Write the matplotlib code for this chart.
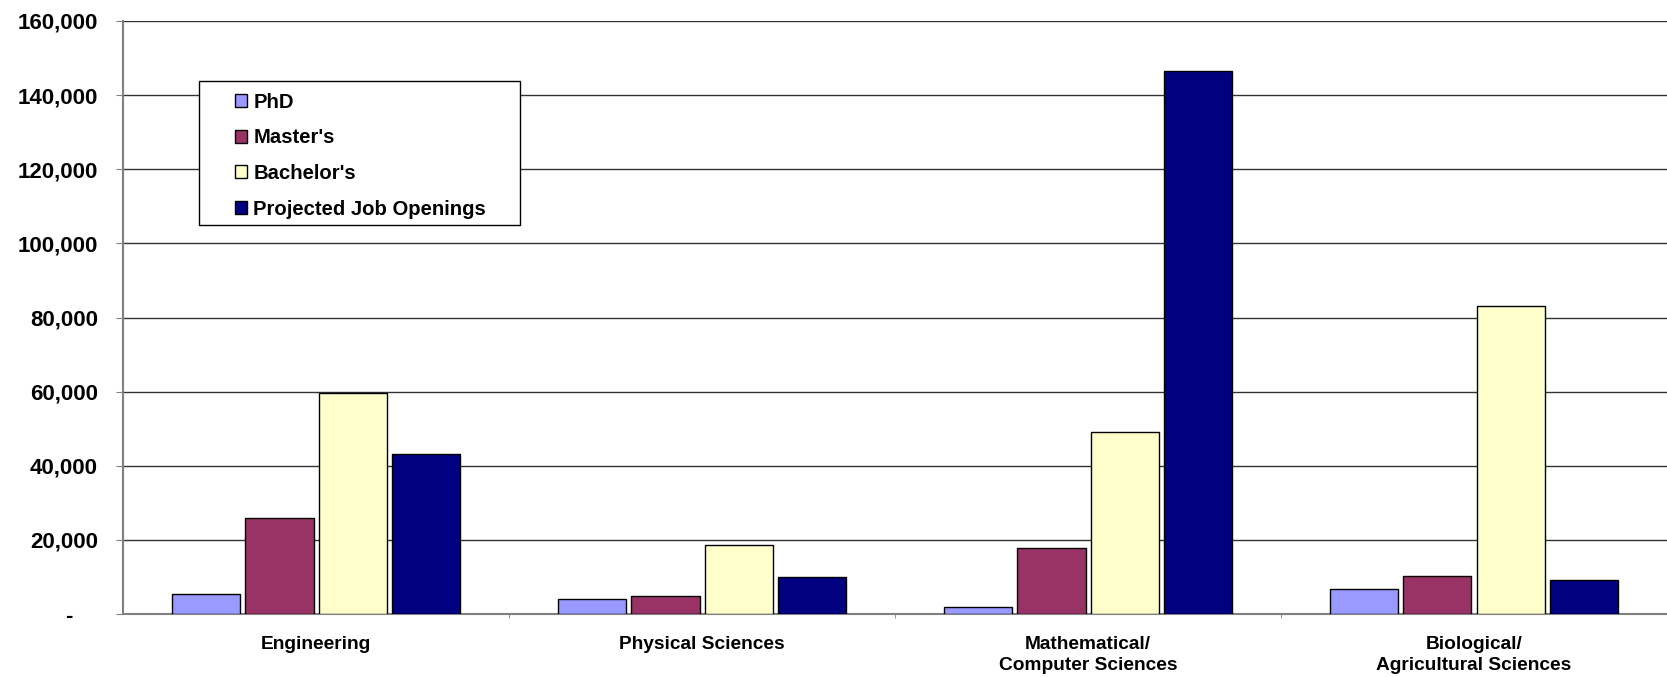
import numpy as np
import matplotlib
matplotlib.use("Agg")
import matplotlib.pyplot as plt
from matplotlib.patches import Rectangle
from matplotlib.ticker import FuncFormatter

plt.rcParams["font.family"] = ["Liberation Sans", "DejaVu Sans"]
plt.rcParams["font.weight"] = "bold"

# data
categories = ["Engineering", "Physical Sciences", "Mathematical/\nComputer Sciences",
              "Biological/\nAgricultural Sciences"]
series_names = ["PhD", "Master's", "Bachelor's", "Projected Job Openings"]
phd = [5300, 4100, 1800, 6800]
masters = [25800, 4800, 17900, 10200]
bachelors = [59500, 18700, 49100, 83200]
job_openings = [43100, 9900, 146500, 9100]
colors = ["#9999FF", "#993366", "#FFFFCC", "#000080"]

fig = plt.figure(figsize=(16.67, 6.77), dpi=100)
ax = fig.add_axes([0.0738, 0.093, 1 - 0.0738, 0.876])

x = np.arange(len(categories))
step = 0.19
width = 0.177
for i, (vals, name) in enumerate(zip([phd, masters, bachelors, job_openings], series_names)):
    ax.bar(x + (i - 1.5) * step, vals, width, color=colors[i], edgecolor="black",
           linewidth=1, label=name, zorder=3)

ax.set_xlim(-0.5, len(categories) - 0.5)
ax.set_ylim(0, 160000)
ax.set_yticks(np.arange(0, 160001, 20000))
ax.yaxis.set_major_formatter(FuncFormatter(lambda v, p: "-    " if v == 0 else f"{int(v):,}"))
ax.grid(axis="y", color="#333333", linewidth=1, zorder=0)

ax.set_xticks(x)
ax.set_xticklabels(categories, fontsize=13.8, fontweight="bold", linespacing=1.3)
ax.set_xticks(np.arange(0.5, len(categories) - 0.5, 1), minor=True)
ax.tick_params(axis="x", which="major", length=0, pad=16)
ax.tick_params(axis="x", which="minor", length=3, color="#808080", direction="out")
ax.tick_params(axis="y", length=5, color="#808080", labelsize=16, pad=13)

for s in ["top", "right"]:
    ax.spines[s].set_visible(False)
ax.spines["left"].set_color("#808080")
ax.spines["left"].set_linewidth(1.5)
ax.spines["bottom"].set_color("#808080")
ax.spines["bottom"].set_linewidth(1.5)

# legend box drawn separately (wide padding as in the original)
ax.add_patch(Rectangle((0.049, 0.656), 0.208, 0.243, transform=ax.transAxes,
                       facecolor="white", edgecolor="black", linewidth=1, zorder=4))
leg = ax.legend(loc="upper left", bbox_to_anchor=(0.0725, 0.879), fontsize=14.6,
                frameon=False, borderpad=0, labelspacing=0.82, handlelength=0.6,
                handleheight=0.6, handletextpad=0.3, borderaxespad=0)
leg.set_zorder(5)
for t in leg.get_texts():
    t.set_fontweight("bold")

fig.savefig("out.png", dpi=100)
